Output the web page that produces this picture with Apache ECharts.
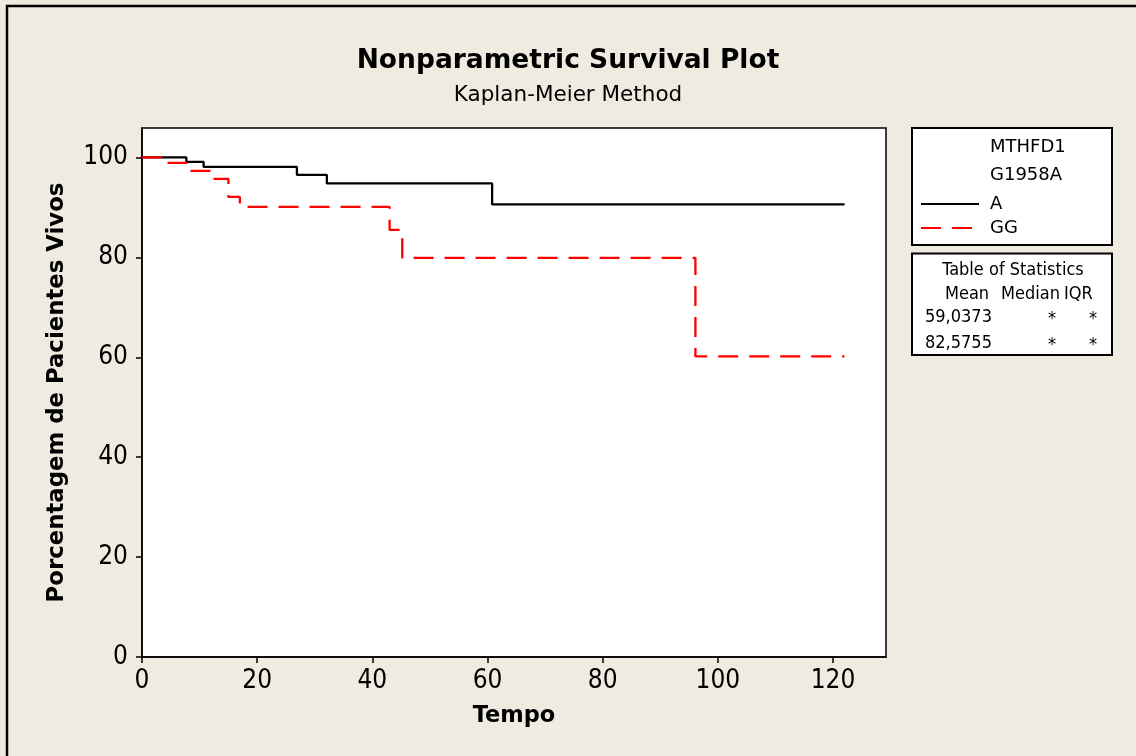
<!DOCTYPE html>
<html>
<head>
<meta charset="utf-8">
<script src="https://cdn.jsdelivr.net/npm/echarts@6/dist/echarts.min.js"></script>
<style>
html,body{margin:0;padding:0;background:#EFEBE1;}
#chart{width:1136px;height:756px;}
</style>
</head>
<body>
<div id="chart"></div>
<script>
// ---- data ----
var timesA = [0, 7.7, 10.7, 26.9, 32.1, 60.8, 122];
var survA  = [100, 99.1, 98.1, 96.5, 94.8, 90.6, 90.6];
var timesGG = [0, 4, 8, 12.3, 15, 17, 43, 45.2, 96.1, 122];
var survGG  = [100, 98.9, 97.3, 95.7, 92.1, 90.1, 85.5, 79.9, 60.2, 60.2];
var seriesNames = ['A', 'GG'];
var legendTitle = ['MTHFD1', 'G1958A'];
var statHeader = ['Mean', 'Median', 'IQR'];
var statMean = ['59,0373', '82,5755'];
var statMedian = ['*', '*'];
var statIQR = ['*', '*'];

function pairs(t, s) { return t.map(function (v, i) { return [v, s[i]]; }); }

var chart = echarts.init(document.getElementById('chart'));
var numFont = '"Liberation Sans Narrow", "DejaVu Sans Condensed", sans-serif';
var txtFont = '"DejaVu Sans", Verdana, sans-serif';
var condFont = '"DejaVu Sans Condensed", "DejaVu Sans", sans-serif';

var graphics = [
  { type: 'rect', shape: { x: 7, y: 6, width: 1300, height: 900 }, style: { fill: null, stroke: '#000', lineWidth: 2.5 }, silent: true },
  { type: 'rect', shape: { x: 912, y: 128, width: 200, height: 117 }, style: { fill: '#fff', stroke: '#000', lineWidth: 2 }, z: 1 },
  { type: 'rect', shape: { x: 912, y: 253.5, width: 200, height: 101.5 }, style: { fill: '#fff', stroke: '#000', lineWidth: 2 }, z: 1 },
  { type: 'text', x: 990, y: 147, style: { text: legendTitle[0], font: '18px ' + txtFont, fill: '#000', textVerticalAlign: 'middle' }, z: 2 },
  { type: 'text', x: 990, y: 175, style: { text: legendTitle[1], font: '18px ' + txtFont, fill: '#000', textVerticalAlign: 'middle' }, z: 2 },
  { type: 'text', x: 1013, y: 270, style: { text: 'Table of Statistics', font: '18px ' + condFont, fill: '#000', textAlign: 'center', textVerticalAlign: 'middle' }, z: 2 },
  { type: 'text', x: 945, y: 294, style: { text: statHeader[0], font: '18px ' + condFont, fill: '#000', textVerticalAlign: 'middle' }, z: 2 },
  { type: 'text', x: 1001, y: 294, style: { text: statHeader[1], font: '18px ' + condFont, fill: '#000', textVerticalAlign: 'middle' }, z: 2 },
  { type: 'text', x: 1064, y: 294, style: { text: statHeader[2], font: '18px ' + condFont, fill: '#000', textVerticalAlign: 'middle' }, z: 2 }
];
var rowY = [317, 343];
for (var i = 0; i < statMean.length; i++) {
  graphics.push({ type: 'text', x: 925, y: rowY[i], style: { text: statMean[i], font: '18px ' + condFont, fill: '#000', textVerticalAlign: 'middle' }, z: 2 });
  graphics.push({ type: 'text', x: 1052, y: rowY[i] + 2, style: { text: statMedian[i], font: '18px ' + condFont, fill: '#000', textAlign: 'center', textVerticalAlign: 'middle' }, z: 2 });
  graphics.push({ type: 'text', x: 1093, y: rowY[i] + 2, style: { text: statIQR[i], font: '18px ' + condFont, fill: '#000', textAlign: 'center', textVerticalAlign: 'middle' }, z: 2 });
}

chart.setOption({
  backgroundColor: '#EFEBE1',
  animation: false,
  title: {
    text: 'Nonparametric Survival Plot',
    subtext: 'Kaplan-Meier Method',
    left: 'center', top: 43, itemGap: 9,
    textStyle: { fontFamily: txtFont, fontWeight: 'bold', fontSize: 26.5, color: '#000' },
    subtextStyle: { fontFamily: txtFont, fontSize: 21.5, color: '#000' }
  },
  legend: {
    orient: 'vertical', left: 920, top: 195, padding: 0, itemWidth: 58, itemHeight: 14, itemGap: 6,
    data: seriesNames,
    itemStyle: { opacity: 0, color: 'rgba(0,0,0,0)', borderWidth: 0 },
    textStyle: { fontFamily: txtFont, fontSize: 18, color: '#000', padding: [0, 0, 0, 6] },
    z: 5
  },
  graphic: graphics,
  grid: { left: 142, right: 250, top: 128, bottom: 99, show: true, backgroundColor: '#fff', borderColor: '#000', borderWidth: 1.5 },
  xAxis: {
    type: 'value', min: 0, max: 129.2, interval: 20,
    name: 'Tempo', nameLocation: 'middle', nameGap: 48,
    nameTextStyle: { fontFamily: txtFont, fontWeight: 'bold', fontSize: 22.5, color: '#000' },
    axisLine: { show: true, onZero: false, lineStyle: { color: '#000', width: 1.5 } },
    axisTick: { show: true, length: 6, lineStyle: { color: '#000', width: 1.5 } },
    axisLabel: { showMaxLabel: false, margin: 11, fontFamily: numFont, fontSize: 26, color: '#000' },
    splitLine: { show: false }
  },
  yAxis: {
    type: 'value', min: 0, max: 105.9, interval: 20,
    name: 'Porcentagem de Pacientes Vivos', nameLocation: 'middle', nameGap: 73,
    nameTextStyle: { fontFamily: txtFont, fontWeight: 'bold', fontSize: 22.8, color: '#000' },
    axisLine: { show: true, onZero: false, lineStyle: { color: '#000', width: 1.5 } },
    axisTick: { show: true, length: 6, lineStyle: { color: '#000', width: 1.5 } },
    axisLabel: { showMaxLabel: false, margin: 14, fontFamily: numFont, fontSize: 26, color: '#000' },
    splitLine: { show: false }
  },
  series: [
    { name: seriesNames[0], type: 'line', step: 'end', symbol: 'none', data: pairs(timesA, survA),
      lineStyle: { color: '#000', width: 2.3 }, itemStyle: { color: '#000' }, z: 3 },
    { name: seriesNames[1], type: 'line', step: 'end', symbol: 'none', data: pairs(timesGG, survGG),
      lineStyle: { color: '#FF0000', width: 2.3, type: [20, 11] }, itemStyle: { color: '#FF0000' }, z: 4 }
  ]
});
</script>
</body>
</html>
